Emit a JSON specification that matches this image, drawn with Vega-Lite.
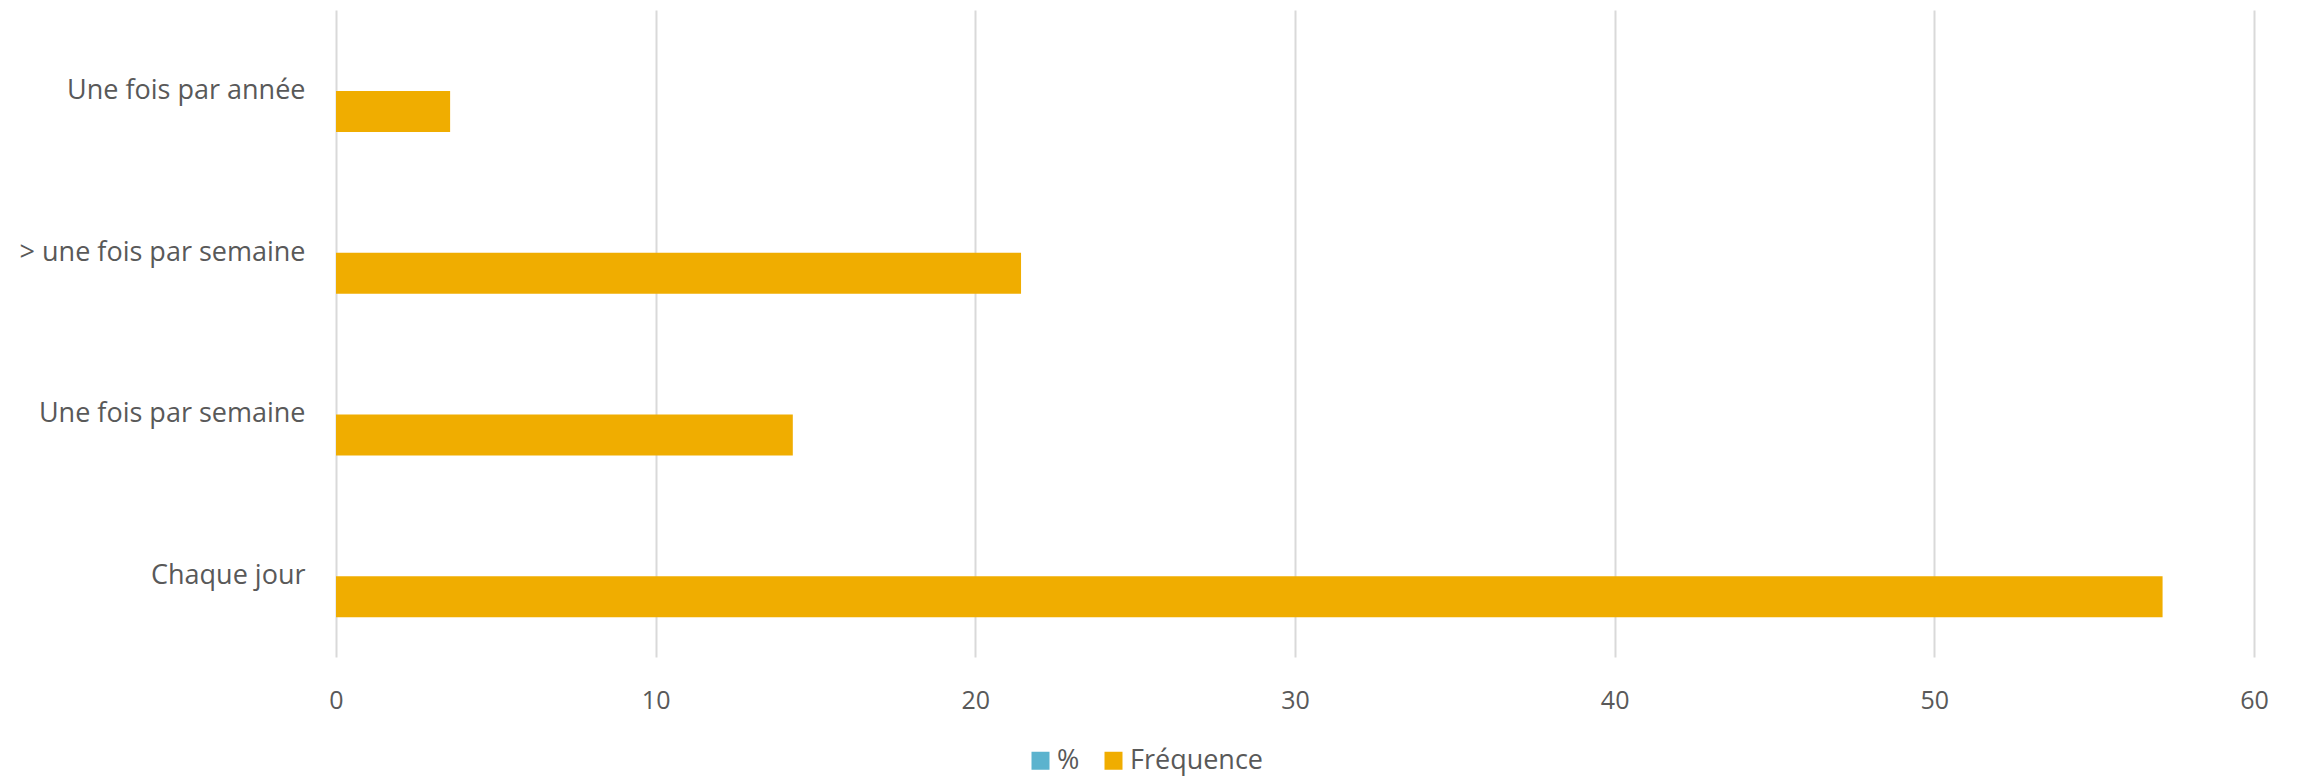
{
  "$schema": "https://vega.github.io/schema/vega-lite/v6.json",
  "autosize": {"type": "none"},
  "padding": {"left": 336, "top": 10, "right": 46, "bottom": 121},
  "width": 1918,
  "height": 647,
  "background": "white",
  "config": {
    "view": {"stroke": null},
    "font": "Open Sans"
  },
  "data": {
    "values": [
      {"categorie": "Une fois par année", "serie": "%", "valeur": 0},
      {"categorie": "> une fois par semaine", "serie": "%", "valeur": 0},
      {"categorie": "Une fois par semaine", "serie": "%", "valeur": 0},
      {"categorie": "Chaque jour", "serie": "%", "valeur": 0},
      {"categorie": "Une fois par année", "serie": "Fréquence", "valeur": 3.57},
      {"categorie": "> une fois par semaine", "serie": "Fréquence", "valeur": 21.43},
      {"categorie": "Une fois par semaine", "serie": "Fréquence", "valeur": 14.29},
      {"categorie": "Chaque jour", "serie": "Fréquence", "valeur": 57.14}
    ]
  },
  "mark": {"type": "bar"},
  "encoding": {
    "y": {
      "field": "categorie",
      "type": "nominal",
      "sort": ["Une fois par année", "> une fois par semaine", "Une fois par semaine", "Chaque jour"],
      "scale": {"paddingInner": 0.49, "paddingOuter": 0.245},
      "axis": {
        "title": null,
        "domain": false,
        "ticks": false,
        "labelFontSize": 27,
        "labelColor": "#595959",
        "labelPadding": 31,
        "labelLimit": 0,
        "labelFont": "Open Sans"
      }
    },
    "yOffset": {
      "field": "serie",
      "type": "nominal",
      "sort": ["%", "Fréquence"],
      "scale": {"paddingInner": 0, "paddingOuter": 0}
    },
    "x": {
      "field": "valeur",
      "type": "quantitative",
      "scale": {"domain": [0, 60], "nice": false},
      "axis": {
        "title": null,
        "values": [0, 10, 20, 30, 40, 50, 60],
        "domain": false,
        "ticks": false,
        "grid": true,
        "gridColor": "#d9d9d9",
        "gridWidth": 2,
        "labelFontSize": 25,
        "labelColor": "#595959",
        "labelPadding": 31,
        "labelFlush": false,
        "labelFont": "Open Sans"
      }
    },
    "color": {
      "field": "serie",
      "type": "nominal",
      "scale": {"domain": ["%", "Fréquence"], "range": ["#5BB3CE", "#F0AD00"]},
      "legend": {
        "title": null,
        "orient": "none",
        "direction": "horizontal",
        "legendX": 691,
        "legendY": 737,
        "symbolType": "square",
        "symbolSize": 324,
        "symbolStrokeWidth": 0,
        "labelFontSize": 27,
        "labelColor": "#595959",
        "labelFont": "Open Sans",
        "labelOffset": 3,
        "columnPadding": 20
      }
    }
  }
}
